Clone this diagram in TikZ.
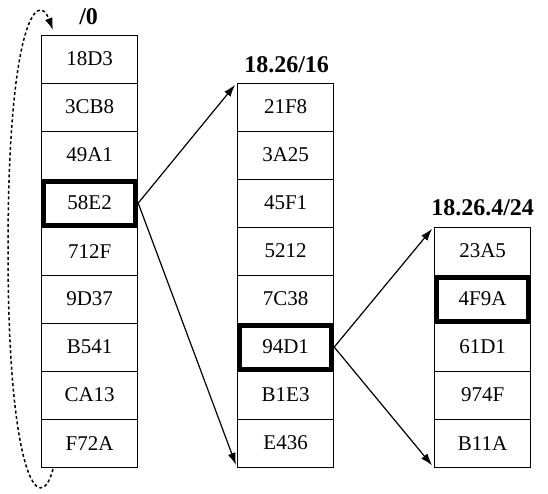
\documentclass[tikz,border=0pt]{standalone}
\usepackage{fontspec}
\setmainfont{Liberation Serif}
\usetikzlibrary{arrows.meta,calc}
\begin{document}
\begin{tikzpicture}[x=1pt,y=-1pt,
 cell/.style={draw,line width=1.2pt,minimum width=96pt,minimum height=48pt,inner sep=0pt,anchor=north west,font=\fontsize{21}{21}\selectfont},
 lab/.style={anchor=base,inner sep=0pt,font=\fontsize{24}{24}\selectfont\bfseries},
 sel/.style={line width=5pt},
 ptr/.style={line width=1.2pt,shorten >=3pt,-{Latex[length=12pt,width=8pt]}},
 loopback/.style={line width=1.5pt,dash pattern=on 3pt off 2.5pt,-{Latex[length=12pt,width=8pt]}}]
\useasboundingbox (0,0) rectangle (548,493);
% column 1
\foreach \t [count=\i] in {18D3,3CB8,49A1,58E2,712F,9D37,B541,CA13,F72A}
  \node[cell] (a\i) at (41,{34.5+48*(\i-1)}) {\t};
% column 2
\foreach \t [count=\i] in {21F8,3A25,45F1,5212,7C38,94D1,B1E3,E436}
  \node[cell] (b\i) at (237,{82.5+48*(\i-1)}) {\t};
% column 3
\foreach \t [count=\i] in {23A5,4F9A,61D1,974F,B11A}
  \node[cell] (c\i) at (434,{226.5+48*(\i-1)}) {\t};
% labels
\node[lab] (la) at ($(a1.north)+(-1,-10.5)$) {/0};
\node[lab] (lb) at ($(b1.north)+(1,-10.5)$) {18.26/16};
\node[lab] (lc) at ($(c1.north)+(0,-11.5)$) {18.26.4/24};
% selected entries
\draw[sel] ($(a4.north west)+(2.5,2.5)$) rectangle ($(a4.south east)+(-2.5,-2.5)$);
\draw[sel] ($(b6.north west)+(2.5,2.5)$) rectangle ($(b6.south east)+(-2.5,-2.5)$);
\draw[sel] ($(c2.north west)+(2.5,2.5)$) rectangle ($(c2.south east)+(-2.5,-2.5)$);
% pointers
\draw[ptr] (a4.east) -- (b1.north west);
\draw[ptr] (a4.east) -- (b8.south west);
\draw[ptr] (b6.east) -- (c1.north west);
\draw[ptr] (b6.east) -- (c5.south west);
% loop back
\coordinate (ls) at ($(a9.south west)+(12,1.5)$);
\coordinate (le) at ($(a1.north west)+(12,-4.5)$);
\draw[loopback] (ls) .. controls (40,518) and (8,480) .. (8,250)
  .. controls (8,20) and (38,-10) .. (le);
\end{tikzpicture}
\end{document}
